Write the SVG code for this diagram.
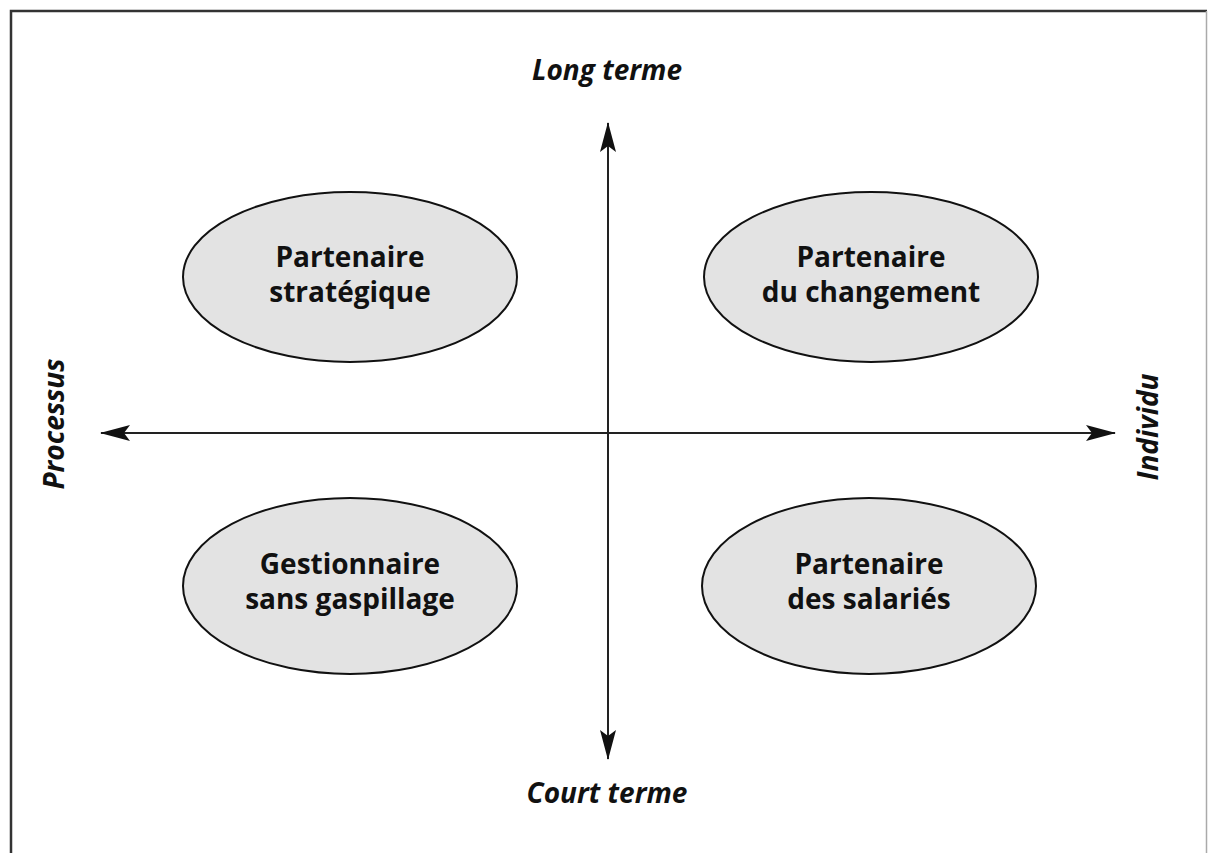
<svg xmlns="http://www.w3.org/2000/svg" width="1208" height="853" viewBox="0 0 1208 853">
  <defs>
    <marker id="arrow" viewBox="0 0 30 16" refX="29" refY="8" markerWidth="30" markerHeight="16" markerUnits="userSpaceOnUse" orient="auto-start-reverse">
      <path d="M0,0 L30,8 L0,16 L6,8 Z" fill="#111"/>
    </marker>
    <style>
      .frame { fill: none; stroke: #333; stroke-width: 2.5; }
      .axis { stroke: #222; stroke-width: 2; fill: none; }
      .node ellipse { fill: #e3e3e3; stroke: #111; stroke-width: 2; }
      .node text { font-family: "Open Sans", "Noto Sans", sans-serif; font-weight: 700; font-size: 28px; fill: #111; text-anchor: middle; }
      .label { font-family: "Open Sans", "Noto Sans", sans-serif; font-weight: 700; font-style: italic; font-size: 28px; fill: #111; text-anchor: middle; }
    </style>
  </defs>
  <rect width="1208" height="853" fill="#fff"/>
  <!-- outer frame -->
  <path class="frame" d="M11,853 V11 H1207"/>
  <line x1="1206.5" y1="11" x2="1206.5" y2="853" stroke="#aaa" stroke-width="1.5"/>

  <!-- axes -->
  <g id="connectors">
    <line class="axis" x1="101" y1="433" x2="1115" y2="433" marker-start="url(#arrow)" marker-end="url(#arrow)"/>
    <line class="axis" x1="608" y1="123" x2="608" y2="759" marker-start="url(#arrow)" marker-end="url(#arrow)"/>
  </g>

  <!-- axis labels -->
  <g id="label-long">
    <text class="label" x="607" y="80">Long terme</text>
  </g>
  <g id="label-court">
    <text class="label" x="607" y="803">Court terme</text>
  </g>
  <g id="label-processus">
    <text class="label" transform="translate(64,424) rotate(-90)">Processus</text>
  </g>
  <g id="label-individu">
    <text class="label" transform="translate(1158,427) rotate(-90)">Individu</text>
  </g>

  <!-- quadrant nodes -->
  <g id="node-strategique" class="node">
    <ellipse cx="350" cy="277" rx="167" ry="85"/>
    <text x="350" y="267">Partenaire</text>
    <text x="350" y="302">stratégique</text>
  </g>
  <g id="node-changement" class="node">
    <ellipse cx="871" cy="277" rx="167" ry="85"/>
    <text x="871" y="267">Partenaire</text>
    <text x="871" y="302">du changement</text>
  </g>
  <g id="node-gestionnaire" class="node">
    <ellipse cx="350" cy="586" rx="167" ry="88"/>
    <text x="350" y="574">Gestionnaire</text>
    <text x="350" y="609">sans gaspillage</text>
  </g>
  <g id="node-salaries" class="node">
    <ellipse cx="869" cy="586" rx="167" ry="88"/>
    <text x="869" y="574">Partenaire</text>
    <text x="869" y="609">des salariés</text>
  </g>
</svg>
